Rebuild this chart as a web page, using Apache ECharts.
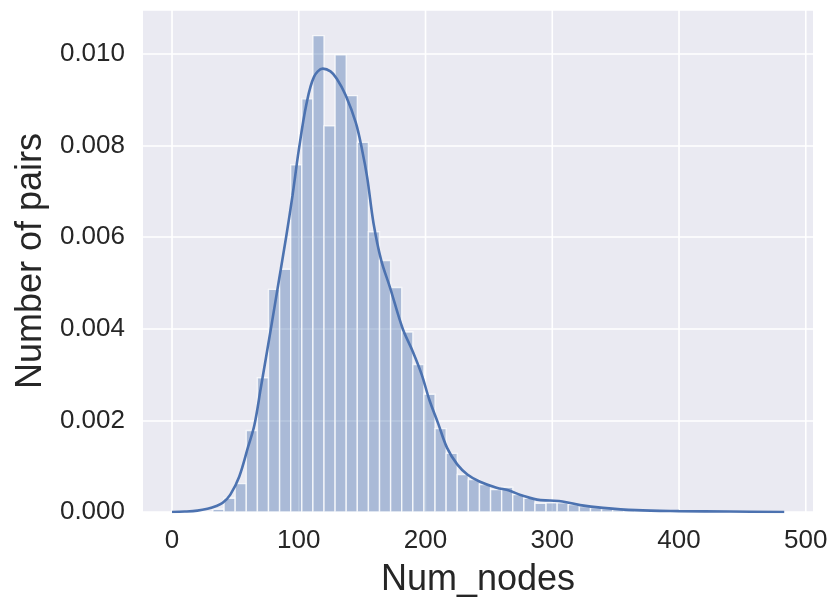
<!DOCTYPE html>
<html>
<head>
<meta charset="utf-8">
<script src="https://cdn.jsdelivr.net/npm/echarts@6/dist/echarts.min.js"></script>
<style>
  html, body { margin: 0; padding: 0; background: #fff; }
  #chart { width: 835px; height: 603px; }
</style>
</head>
<body>
<div id="chart"></div>
<script>
// histogram bins (density)
var binStart = 32.3;
var binWidth = 8.76;
var binHeights = [
  0.00006, 0.0003, 0.00062, 0.00178, 0.00293, 0.00486, 0.0053, 0.00758, 0.00902, 0.0104,
  0.00843, 0.00998, 0.00909, 0.00807, 0.00612, 0.00549, 0.0049, 0.00393, 0.00322, 0.00257,
  0.00182, 0.00128, 0.00082, 0.00071, 0.0006, 0.00049, 0.00054, 0.00038, 0.0003, 0.00019,
  0.0002, 0.0002, 0.00016, 0.00012, 0.00009, 0.00007, 0.00005, 0.00004, 0.00003, 0.00002,
  0.00002, 0.00001, 0.00001, 0.00001, 0.00001, 0, 0.00001, 0, 0.00001, 0.00001
];

// kde curve
var kdeX = [0, 10, 20, 28, 35, 40, 46, 53, 60, 65, 70, 78, 84, 90, 95, 100, 106, 112, 119, 125,
  130, 137, 145, 150, 154, 159, 165, 172, 182, 190, 197, 203, 210, 217, 225, 233, 243, 256, 266, 275,
  288, 298, 308, 322, 340, 366, 400, 440, 483];
var kdeY = [0, 0.00001, 0.00003, 0.00007, 0.00013, 0.0002, 0.00038, 0.00077, 0.00142, 0.0019,
  0.0027, 0.004, 0.005, 0.006, 0.0069, 0.0079, 0.0089, 0.0095, 0.00968, 0.00962,
  0.00946, 0.0091, 0.0085, 0.0079, 0.0073, 0.0063, 0.0055, 0.0049, 0.004, 0.0035,
  0.003, 0.00245, 0.00193, 0.0014, 0.00104, 0.00082, 0.00066, 0.00053, 0.00047, 0.00037,
  0.00027, 0.00025, 0.00023, 0.00015, 0.00009, 0.00004, 0.00002, 0.00001, 0];

var xTicks = [0, 100, 200, 300, 400, 500];

var bins = binHeights.map(function (h, i) {
  return [binStart + i * binWidth, binStart + (i + 1) * binWidth, h];
});
var kde = kdeX.map(function (x, i) { return [x, kdeY[i]]; });

var textColor = '#262626';
var font = 'Liberation Sans, Arial, sans-serif';

var chart = echarts.init(document.getElementById('chart'), null, { renderer: 'canvas' });

chart.setOption({
  animation: false,
  backgroundColor: '#ffffff',
  grid: {
    left: 143, right: 22, top: 10, bottom: 91,
    show: true, backgroundColor: '#EAEAF2', borderWidth: 0
  },
  xAxis: {
    type: 'value',
    min: -22.9, max: 505.7,
    name: 'Num_nodes',
    nameLocation: 'middle',
    nameGap: 50,
    nameTextStyle: { fontSize: 36, color: textColor, fontFamily: font },
    axisLine: { show: false },
    axisTick: { show: false },
    splitLine: { show: false },
    axisLabel: {
      customValues: xTicks,
      fontSize: 26, color: textColor, fontFamily: font, margin: 16
    }
  },
  yAxis: {
    type: 'value',
    min: 0, max: 0.01096, interval: 0.002,
    name: 'Number of pairs',
    nameLocation: 'middle',
    nameGap: 86,
    nameTextStyle: { fontSize: 36, color: textColor, fontFamily: font },
    axisLine: { show: false },
    axisTick: { show: false },
    splitLine: { show: true, lineStyle: { color: '#ffffff', width: 1.6 } },
    axisLabel: {
      showMaxLabel: false,
      fontSize: 26, color: textColor, fontFamily: font, margin: 18,
      formatter: function (v) { return v.toFixed(3); }
    }
  },
  series: [
    {
      // vertical grid lines at the x ticks
      type: 'custom',
      z: 1,
      silent: true,
      data: xTicks.map(function (v) { return [v, 0]; }),
      encode: { x: 0, y: 1 },
      renderItem: function (params, api) {
        var p = api.coord([api.value(0), 0]);
        var top = params.coordSys.y;
        return {
          type: 'line',
          shape: { x1: p[0], y1: top, x2: p[0], y2: p[1] },
          style: { stroke: '#ffffff', lineWidth: 1.6 }
        };
      }
    },
    {
      type: 'custom',
      z: 2,
      silent: true,
      data: bins,
      encode: { x: [0, 1], y: 2 },
      renderItem: function (params, api) {
        var a = api.coord([api.value(0), api.value(2)]);
        var b = api.coord([api.value(1), 0]);
        return {
          type: 'rect',
          shape: { x: a[0], y: a[1], width: b[0] - a[0], height: b[1] - a[1] },
          style: { fill: 'rgba(76,114,176,0.4)', stroke: 'rgba(255,255,255,0.75)', lineWidth: 1.4 }
        };
      }
    },
    {
      type: 'line',
      z: 3,
      data: kde,
      smooth: 0.35,
      showSymbol: false,
      silent: true,
      lineStyle: { color: '#4C72B0', width: 2.6 }
    }
  ]
});
</script>
</body>
</html>
